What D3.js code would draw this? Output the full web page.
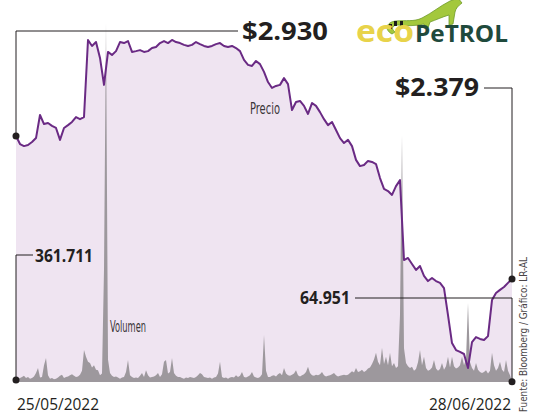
<!DOCTYPE html>
<html>
<head>
<meta charset="utf-8">
<script src="https://cdn.jsdelivr.net/npm/d3@7"></script>
<style>
  body { margin: 0; background: #fff; }
  svg { display: block; }
</style>
</head>
<body>
<svg id="chart" width="534" height="416"></svg>
<script>
// fechas extremas del periodo
const fechas = ["25/05/2022", "28/06/2022"];

// precio de la accion (pesos), puntos equiespaciados
const precio = [
  2930, 2899, 2891, 2895, 2907, 2922, 3011, 2976, 2980, 2969,
  2961, 2915, 2961, 2972, 2984, 3003, 2995, 3003, 3300, 3277,
  3292, 3231, 3127, 3254, 3242, 3257, 3292, 3288, 3296, 3254,
  3257, 3261, 3254, 3257, 3269, 3273, 3288, 3296, 3288, 3300,
  3292, 3288, 3281, 3277, 3281, 3292, 3284, 3277, 3273, 3277,
  3284, 3288, 3277, 3273, 3277, 3269, 3257, 3223, 3204, 3200,
  3219, 3207, 3177, 3138, 3115, 3123, 3127, 3153, 3130, 3030,
  3061, 3065, 3046, 3015, 3057, 3046, 3022, 2995, 2972, 2984,
  2953, 2922, 2903, 2915, 2891, 2838, 2814, 2818, 2834, 2830,
  2822, 2768, 2726, 2718, 2703, 2737, 2760, 2452, 2460, 2437,
  2414, 2429, 2391, 2371, 2383, 2371, 2364, 2344, 2240, 2132,
  2105, 2098, 2090, 2036, 2136, 2155, 2148, 2144, 2159, 2298,
  2325, 2337, 2348, 2364, 2379
];

// volumen negociado (millones de acciones)
const volumen = [
  0.361711, 0.5, 0.7, 0.9, 1.1, 0.7, 0.9, 0.6, 0.7, 1.0,
  1.6, 2.5, 0.8, 0.9, 3.0, 4.3, 1.2, 0.6, 0.7, 0.5,
  0.6, 0.8, 1.1, 1.3, 0.7, 0.9, 1.0, 1.2, 1.4, 1.1,
  0.9, 1.0, 1.3, 2.0, 5.7, 4.5, 3.6, 3.4, 2.6, 3.0,
  2.2, 2.1, 1.2, 1.5, 20, 64, 4.0, 1.6, 1.1, 0.9,
  1.0, 0.8, 0.6, 0.8, 0.9, 1.8, 3.9, 1.2, 0.9, 0.7,
  0.8, 0.7, 1.1, 1.6, 0.9, 2.1, 1.2, 0.8, 0.9, 1.0,
  1.2, 1.6, 0.9, 1.4, 3.6, 3.9, 1.5, 1.8, 4.3, 1.6,
  1.1, 0.9, 0.9, 0.7, 0.6, 0.8, 0.7, 0.9, 0.8, 0.7,
  0.9, 1.2, 1.6, 1.4, 0.9, 0.8, 0.7, 0.8, 0.6, 0.8,
  0.9, 1.5, 3.6, 0.9, 0.7, 0.8, 0.6, 0.8, 0.9, 0.8,
  1.2, 0.9, 1.1, 1.8, 0.9, 0.8, 1.0, 1.2, 1.8, 1.0,
  0.8, 0.7, 0.9, 1.4, 8.4, 2.0, 0.9, 0.9, 1.1, 1.2,
  1.0, 1.4, 1.6, 1.2, 2.5, 1.5, 1.2, 1.1, 1.3, 1.5,
  2.1, 1.2, 1.0, 1.2, 1.4, 1.8, 2.7, 1.6, 1.2, 1.1,
  1.3, 1.2, 1.4, 1.8, 1.2, 1.0, 1.1, 1.2, 1.4, 1.6,
  1.2, 1.0, 1.1, 1.2, 1.3, 1.2, 1.3, 1.6, 1.9, 1.7,
  2.5, 1.8, 1.9, 2.2, 1.8, 2.0, 2.4, 2.6, 3.2, 4.0,
  5.2, 3.6, 3.0, 6.1, 3.2, 4.5, 3.0, 5.2, 2.8, 3.4,
  2.5, 2.8, 12, 44, 6, 3.4, 2.8, 2.5, 2.7, 2.0,
  2.3, 3.5, 5.7, 3.0, 4.5, 2.5, 2.0, 2.2, 2.6, 3.9,
  2.4, 2.0, 2.3, 3.4, 2.2, 2.8, 4.5, 2.6, 4.5, 2.8,
  2.4, 2.6, 3.0, 4.5, 3.0, 4.0, 14.1, 3.5, 2.5, 2.0,
  3.4, 2.2, 1.8, 1.6, 1.8, 2.1, 1.5, 2.0, 5.2, 3.0,
  2.0, 2.5, 3.6, 2.2, 1.8, 3.9, 2.0, 1.2, 0.064951
];

const fuente = "Fuente: Bloomberg / Gráfico: LR-AL";

const ink = "#231f20";
const svg = d3.select("#chart");

const es = d3.formatLocale({ decimal: ",", thousands: ".", grouping: [3], currency: ["$", ""] });
const fmtPrecio = es.format("$,.0f");
const fmtVol = es.format(",.0f");

// escalas
const x = d3.scaleLinear().domain([0, precio.length - 1]).range([16, 512]);
const xv = d3.scaleLinear().domain([0, volumen.length - 1]).range([16, 512]);
const yP = d3.scaleLinear().domain([2379, 2930]).range([279, 136]);
const yV = d3.scaleLinear().domain([0, 64]).range([382, 23]);

// area bajo el precio
svg.append("path")
  .datum(precio)
  .attr("fill", "#efe4f1")
  .attr("d", d3.area().x((d, i) => x(i)).y0(yV(0)).y1(d => yP(d)));

// volumen
svg.append("path")
  .datum(volumen)
  .attr("fill", "#9d989d")
  .attr("d", d3.area().x((d, i) => xv(i)).y0(yV(0)).y1(d => yV(d)));

// linea de precio
svg.append("path")
  .datum(precio)
  .attr("fill", "none")
  .attr("stroke", "#6a2a84")
  .attr("stroke-width", 2)
  .attr("stroke-linejoin", "round")
  .attr("d", d3.line().x((d, i) => x(i)).y(d => yP(d)));

// lineas guia de las anotaciones
const p0 = precio[0], p1 = precio[precio.length - 1];
const v0 = volumen[0], v1 = volumen[volumen.length - 1];
const guias = [
  [[238, 31], [x(0), 31], [x(0), yP(p0)]],
  [[484, 88], [x(precio.length - 1), 88], [x(precio.length - 1), yP(p1)]],
  [[33, 255], [xv(0), 255], [xv(0), yV(v0)]],
  [[355, 298], [xv(volumen.length - 1), 298], [xv(volumen.length - 1), yV(v1)]]
];
svg.selectAll(".guia").data(guias).enter().append("path")
  .attr("class", "guia")
  .attr("fill", "none")
  .attr("stroke", ink)
  .attr("stroke-width", 1)
  .attr("d", d3.line());

const puntos = [
  [x(0), yP(p0)], [x(precio.length - 1), yP(p1)],
  [xv(0), yV(v0)], [xv(volumen.length - 1), yV(v1)]
];
svg.selectAll(".punto").data(puntos).enter().append("circle")
  .attr("class", "punto")
  .attr("cx", d => d[0]).attr("cy", d => d[1]).attr("r", 3.5)
  .attr("fill", ink);

// etiquetas de valores
const big = "'Open Sans', sans-serif";
function etiqueta(px, py, anchor, size, width, txt) {
  svg.append("text").attr("x", px).attr("y", py).attr("text-anchor", anchor)
    .attr("font-family", big).attr("font-weight", 700).attr("font-size", size).attr("fill", ink)
    .attr("textLength", width).attr("lengthAdjust", "spacingAndGlyphs")
    .text(txt);
}
etiqueta(242, 40, "start", 25, 86, fmtPrecio(p0));
etiqueta(479, 96, "end", 25, 84, fmtPrecio(p1));
etiqueta(35, 262, "start", 18, 58, fmtVol(v0 * 1e6));
etiqueta(350, 304, "end", 18, 50, fmtVol(v1 * 1e6));

// nombres de series
const narrow = "'Liberation Sans Narrow', 'DejaVu Sans Condensed', sans-serif";
svg.append("text").attr("x", 250).attr("y", 114)
  .attr("font-family", narrow).attr("font-size", 15).attr("fill", "#3a3538")
  .attr("textLength", 30).attr("lengthAdjust", "spacingAndGlyphs")
  .text("Precio");
svg.append("text").attr("x", 110).attr("y", 332)
  .attr("font-family", narrow).attr("font-size", 15).attr("fill", "#3a3538")
  .attr("textLength", 36).attr("lengthAdjust", "spacingAndGlyphs")
  .text("Volumen");

// fechas
svg.append("text").attr("x", 17).attr("y", 410)
  .attr("font-family", big).attr("font-size", 17).attr("fill", ink)
  .attr("textLength", 82).attr("lengthAdjust", "spacingAndGlyphs")
  .text(fechas[0]);
svg.append("text").attr("x", 511).attr("y", 410).attr("text-anchor", "end")
  .attr("font-family", big).attr("font-size", 17).attr("fill", ink)
  .attr("textLength", 82).attr("lengthAdjust", "spacingAndGlyphs")
  .text(fechas[1]);

// fuente
svg.append("text")
  .attr("transform", "translate(527,257) rotate(-90)")
  .attr("text-anchor", "end")
  .attr("font-family", narrow).attr("font-size", 11).attr("fill", "#4a4548")
  .attr("textLength", 155).attr("lengthAdjust", "spacingAndGlyphs")
  .text(fuente);

// logo
const logo = svg.append("g");
logo.append("path")
  .attr("fill", "#a3c83c").attr("stroke", "#6f9a2a").attr("stroke-width", 0.8)
  .attr("d", "M392,34 C384,30 386,22 396,21 C406,20 414,22 422,18 C432,13 440,6 450,1 L458,-2 L462,3 C458,6 456,8 455,12 L453,24 L449,25 L449,15 C442,17 436,20 430,22 L428,28 L424,28 L424,24 C416,26 406,26 398,25 C392,25 391,29 395,32 Z");
logo.selectAll(".raya").data([[389, 24], [394, 21], [400, 21]]).enter().append("rect")
  .attr("x", d => d[0]).attr("y", d => d[1]).attr("width", 3).attr("height", 5)
  .attr("fill", "#1b1b1b");
logo.append("text").attr("x", 356).attr("y", 42)
  .attr("font-family", big).attr("font-weight", 700).attr("font-size", 31).attr("fill", "#e8d34a")
  .attr("textLength", 58).attr("lengthAdjust", "spacingAndGlyphs")
  .text("eco");
logo.append("text").attr("x", 415).attr("y", 42)
  .attr("font-family", big).attr("font-weight", 700).attr("font-size", 24).attr("fill", "#1f4a3c")
  .attr("textLength", 93).attr("lengthAdjust", "spacingAndGlyphs")
  .text("PeTROL");
</script>
</body>
</html>
